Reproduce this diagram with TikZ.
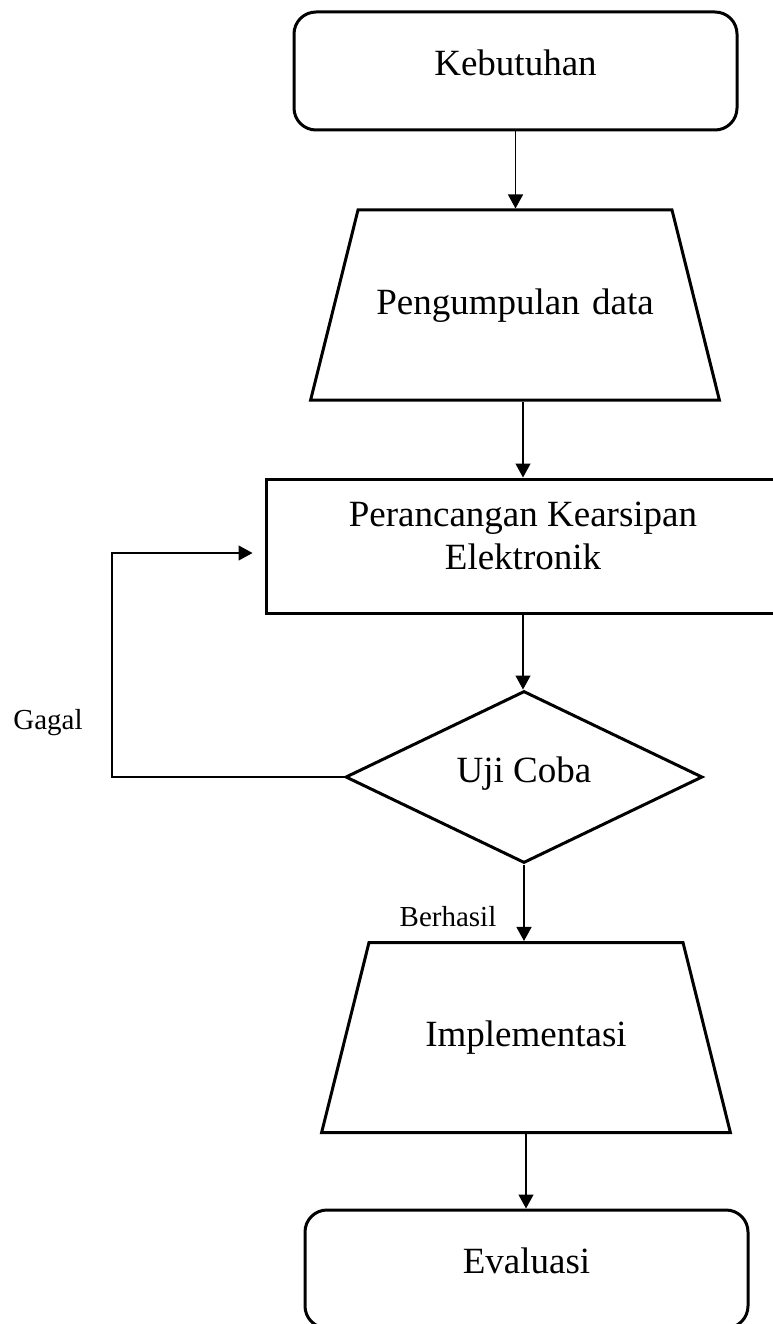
\documentclass[tikz,border=0pt]{standalone}
\usepackage{fontspec}
\setmainfont{Liberation Serif}
\usetikzlibrary{shapes.geometric,arrows.meta}

\begin{document}
\begin{tikzpicture}[x=1pt,y=-1pt,
  every node/.style={font=\fontsize{37}{43}\selectfont},
  terminal/.style={draw,line width=3pt,rounded corners=22pt,minimum width=443pt,minimum height=118pt,text depth=16pt},
  data/.style={draw,trapezium,trapezium angle=76,text width=290pt,align=center,inner xsep=12pt,
    text height=26pt,text depth=8pt,inner ysep=78pt,line width=3pt},
  process/.style={draw,line width=3pt,minimum width=514pt,minimum height=134pt,align=center,text depth=20pt},
  decision/.style={draw,diamond,aspect=2.08,minimum width=357pt,minimum height=172pt,line width=3pt,text depth=14pt},
  note/.style={font=\fontsize{29}{34}\selectfont},
  line/.style={draw,line width=1.3pt,-{Triangle[length=14pt,width=15pt]}}]

\useasboundingbox (0,0) rectangle (773,1324);
\clip (0,0) rectangle (773,1324);

\node[terminal] (keb) at (515.5,71) {Kebutuhan};
\node[data] (peng) at (515,305) {Pengumpulan data};
\node[process] (pera) at (523,546) {Perancangan Kearsipan\\Elektronik};
\node[decision] (uji) at (524,777) {Uji Coba};
\node[data] (impl) at (526,1037.5) {Implementasi};
\node[terminal] (eval) at (526.5,1269) {Evaluasi};

\node[note] (gagal) at (48,723) {Gagal};
\node[note] (berhasil) at (448,917) {Berhasil};

% main flow
\draw[line] (keb.south) -- (keb.south |- peng.north);
\draw[line] (pera.north |- peng.south) -- (pera.north);
\draw[line] (pera.south) -- (pera.south |- uji.north);
\draw[line] (uji.south) -- (uji.south |- impl.north);
\draw[line] (impl.south) -- (impl.south |- eval.north);

% back to design if test fails
\coordinate (gbot) at (112,777);
\coordinate (gtop) at (112,553);
\draw[line,shorten >=12pt] (uji.west) -- (gbot) -- (gtop) -- (pera.west |- gtop);

\end{tikzpicture}
\end{document}
